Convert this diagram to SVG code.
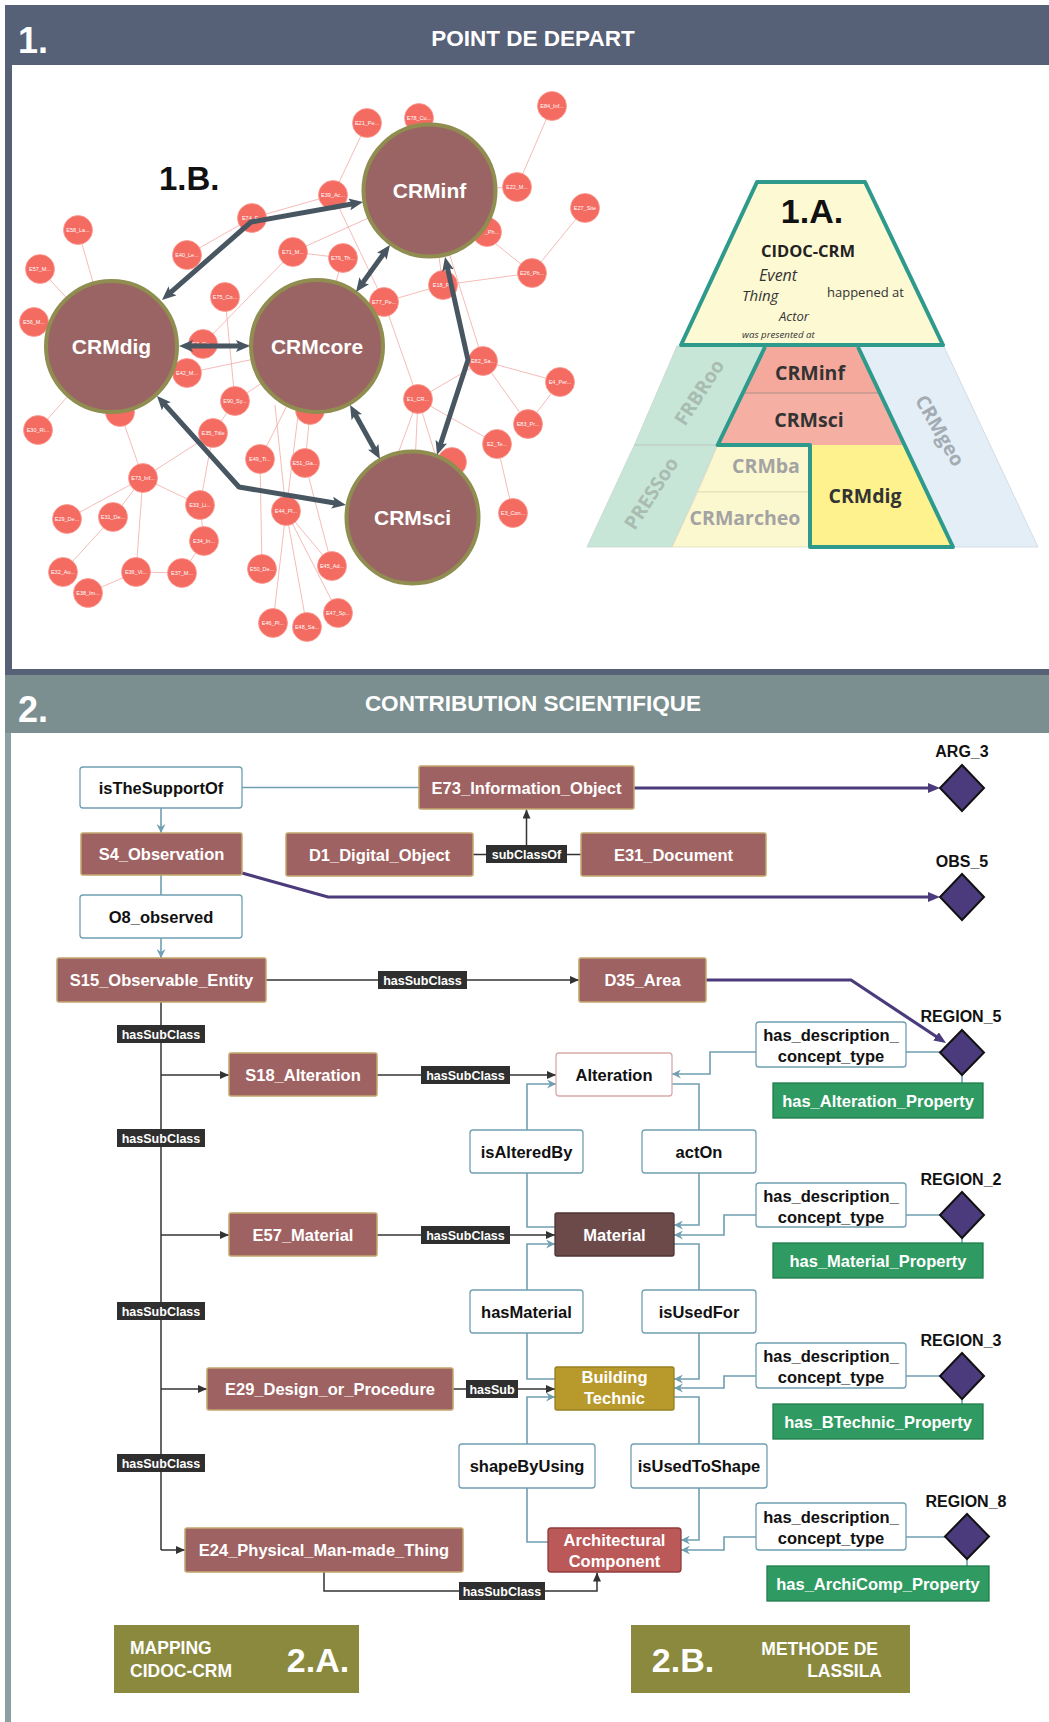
<svg xmlns="http://www.w3.org/2000/svg" width="1049" height="1722" viewBox="0 0 1049 1722">
<defs>
<style>
text{font-family:"Liberation Sans",Arial,sans-serif}
.hd{font-weight:bold;font-size:22.5px;fill:#fff;text-anchor:middle}
.hn{font-size:36px;fill:#fff;font-weight:bold}
.bc{fill:#9b6464;stroke:#8f8d4f;stroke-width:4}
.bt{font-weight:bold;font-size:21px;fill:#fff;text-anchor:middle}
.sc{fill:#f36b61;stroke:#fb9a92;stroke-width:0.8}
.st{font-size:5.5px;fill:#fff;text-anchor:middle}
.te{stroke:#f2aaa5;stroke-width:0.8;fill:none}
.ta{stroke:#475660;stroke-width:5;fill:none;stroke-linejoin:round;marker-start:url(#ha);marker-end:url(#ha)}
.py{font-family:"Open Sans","Liberation Sans",sans-serif}
.pb{font-weight:bold;font-size:19.5px;text-anchor:middle}
.pg{fill:#a3a3a3}
.nb{fill:#9f6262;stroke:#c2a66c;stroke-width:1.5}
.nt{font-weight:bold;font-size:16.5px;fill:#fff;text-anchor:middle}
.rb{fill:#fff;stroke:#6f9fb0;stroke-width:1.3}
.rt{font-weight:bold;font-size:16.5px;fill:#111;text-anchor:middle}
.lb{fill:#2f2f2f}
.lt{font-weight:bold;font-size:12.5px;fill:#fff;text-anchor:middle}
.gb{fill:#2f9a62;stroke:#1f7d4c;stroke-width:1.3}
.dm{fill:#4b3b7c;stroke:#111;stroke-width:2}
.rg{font-weight:bold;font-size:16px;fill:#111;text-anchor:middle}
.ct{stroke:#6f9fb0;stroke-width:1.6;fill:none}
.ca{stroke:#6f9fb0;stroke-width:1.6;fill:none;marker-end:url(#at)}
.ck{stroke:#333;stroke-width:1.5;fill:none}
.cka{stroke:#333;stroke-width:1.5;fill:none;marker-end:url(#ak)}
.cp{stroke:#4b3b7c;stroke-width:3.2;fill:none;marker-end:url(#ap)}
.ob{fill:#8a893e}
.ow{font-weight:bold;font-size:17.5px;fill:#fff}
.obig{font-weight:bold;font-size:34px;fill:#fff;text-anchor:middle}
</style>
<marker id="ha" viewBox="0 0 14 12" markerWidth="14" markerHeight="12" refX="4" refY="6" orient="auto-start-reverse" markerUnits="userSpaceOnUse"><path d="M0,0 L14,6 L0,12 L3,6 z" fill="#475660"/></marker>
<marker id="ak" viewBox="0 0 9 8" markerWidth="9" markerHeight="8" refX="9" refY="4" orient="auto" markerUnits="userSpaceOnUse"><path d="M0,0 L9,4 L0,8 z" fill="#333"/></marker>
<marker id="at" viewBox="0 0 9 9" markerWidth="9" markerHeight="9" refX="9" refY="4.5" orient="auto" markerUnits="userSpaceOnUse"><path d="M0,0 L9,4.5 L0,9 L3,4.5 z" fill="#6f9fb0"/></marker>
<marker id="ap" viewBox="0 0 12 10" markerWidth="12" markerHeight="10" refX="2" refY="5" orient="auto" markerUnits="userSpaceOnUse"><path d="M0,0 L12,5 L0,10 z" fill="#4b3b7c"/></marker>
</defs>

<rect width="1049" height="1722" fill="#fff"/>

<!-- SECTION 1 frame -->
<g id="section1-frame">
<rect x="5" y="5" width="1044" height="60" fill="#566077"/>
<rect x="5" y="65" width="7" height="610" fill="#566077"/>
<rect x="5" y="669" width="1044" height="6" fill="#566077"/>
<text class="hn" x="18" y="53">1.</text>
<text class="hd" x="533" y="46">POINT DE DEPART</text>
</g>

<!-- Network 1.B -->
<g id="net-edges">
<path class="te" d="M367,123L333,195 M252,218L333,195 M187,255L252,218 M333,195L384,302 M552,106L517,187 M585,208L532,273 M429.5,190.5L532,273 M532,273L443,285 M429.5,190.5L443,285 M429.5,190.5L293,252 M293,252L343,258 M343,258L317,346 M384,302L443,285 M384,302L418,399 M78,230L111.5,346.5 M40,269L111.5,346.5 M34,322L111.5,346.5 M38,430L111.5,346.5 M203,344L293,252 M225,297L235,401 M203,344L317,346 M187,373L317,346 M235,401L317,346 M213,433L235,401 M213,433L143,478 M143,478L120,412 M67,519L143,478 M113,517L143,478 M200,505L143,478 M136,572L143,478 M63,572L113,517 M88,593L136,572 M182,573L136,572 M182,573L204,541 M204,541L200,505 M200,505L213,433 M260,459L317,346 M262,569L260,459 M286,511L300,400 M286,511L275,405 M273,623L286,511 M307,627L286,511 M332,566L286,511 M338,613L286,511 M305,463L317,346 M332,566L305,463 M418,399L412.5,517.5 M418,399L392,470 M418,399L440,470 M483,361L418,399 M560,382L483,361 M528,424L483,361 M560,382L528,424 M497,444L418,399 M513,513L497,444 M429.5,190.5L483,361 M429.5,190.5L487,232 M517,187L429.5,190.5 M452,462L412.5,517.5 M310,410L317,346"/>
</g>

<g id="net-small">
<g id="n-e21"><circle class="sc" cx="367" cy="123" r="14.5"/><text class="st" x="367" y="125">E21_Pe...</text></g>
<g id="n-e78"><circle class="sc" cx="419" cy="118" r="14.5"/><text class="st" x="419" y="120">E78_Cu...</text></g>
<g id="n-e84"><circle class="sc" cx="552" cy="106" r="14.5"/><text class="st" x="552" y="108">E84_Inf...</text></g>
<g id="n-e39"><circle class="sc" cx="333" cy="195" r="14.5"/><text class="st" x="333" y="197">E39_Ac...</text></g>
<g id="n-e22"><circle class="sc" cx="517" cy="187" r="14.5"/><text class="st" x="517" y="189">E22_M...</text></g>
<g id="n-e27"><circle class="sc" cx="585" cy="208" r="14.5"/><text class="st" x="585" y="210">E27_Site</text></g>
<g id="n-ph"><circle class="sc" cx="487" cy="232" r="14.5"/><text class="st" x="492" y="234">_Ph...</text></g>
<g id="n-e26"><circle class="sc" cx="532" cy="273" r="14.5"/><text class="st" x="532" y="275">E26_Ph...</text></g>
<g id="n-e18"><circle class="sc" cx="443" cy="285" r="14.5"/><text class="st" x="443" y="287">E18_P...</text></g>
<g id="n-e79"><circle class="sc" cx="343" cy="258" r="14.5"/><text class="st" x="343" y="260">E79_Th...</text></g>
<g id="n-e77"><circle class="sc" cx="384" cy="302" r="14.5"/><text class="st" x="384" y="304">E77_Pe...</text></g>
<g id="n-e71"><circle class="sc" cx="293" cy="252" r="14.5"/><text class="st" x="293" y="254">E71_M...</text></g>
<g id="n-e74"><circle class="sc" cx="252" cy="218" r="14.5"/><text class="st" x="252" y="220">E74_F...</text></g>
<g id="n-e40"><circle class="sc" cx="187" cy="255" r="14.5"/><text class="st" x="187" y="257">E40_Le...</text></g>
<g id="n-e58"><circle class="sc" cx="78" cy="230" r="14.5"/><text class="st" x="78" y="232">E58_La...</text></g>
<g id="n-e57"><circle class="sc" cx="40" cy="269" r="14.5"/><text class="st" x="40" y="271">E57_M...</text></g>
<g id="n-e56"><circle class="sc" cx="34" cy="322" r="14.5"/><text class="st" x="34" y="324">E56_M...</text></g>
<g id="n-e75"><circle class="sc" cx="225" cy="297" r="14.5"/><text class="st" x="225" y="299">E75_Co...</text></g>
<g id="n-e7c"><circle class="sc" cx="203" cy="344" r="14.5"/><text class="st" x="203" y="346">E7_Co...</text></g>
<g id="n-e42"><circle class="sc" cx="187" cy="373" r="14.5"/><text class="st" x="187" y="375">E42_M...</text></g>
<g id="n-e90"><circle class="sc" cx="235" cy="401" r="14.5"/><text class="st" x="235" y="403">E90_Sy...</text></g>
<g id="n-e35"><circle class="sc" cx="213" cy="433" r="14.5"/><text class="st" x="213" y="435">E35_Title</text></g>
<g id="n-e30"><circle class="sc" cx="38" cy="430" r="14.5"/><text class="st" x="38" y="432">E30_Ri...</text></g>
<g id="n-x1"><circle class="sc" cx="120" cy="412" r="14.5"/></g>
<g id="n-e73"><circle class="sc" cx="143" cy="478" r="14.5"/><text class="st" x="143" y="480">E73_Inf...</text></g>
<g id="n-e29"><circle class="sc" cx="67" cy="519" r="14.5"/><text class="st" x="67" y="521">E29_De...</text></g>
<g id="n-e31"><circle class="sc" cx="113" cy="517" r="14.5"/><text class="st" x="113" y="519">E31_De...</text></g>
<g id="n-e33"><circle class="sc" cx="200" cy="505" r="14.5"/><text class="st" x="200" y="507">E33_Li...</text></g>
<g id="n-e34"><circle class="sc" cx="204" cy="541" r="14.5"/><text class="st" x="204" y="543">E34_In...</text></g>
<g id="n-e32"><circle class="sc" cx="63" cy="572" r="14.5"/><text class="st" x="63" y="574">E32_Au...</text></g>
<g id="n-e36"><circle class="sc" cx="136" cy="572" r="14.5"/><text class="st" x="136" y="574">E36_Vi...</text></g>
<g id="n-e37"><circle class="sc" cx="182" cy="573" r="14.5"/><text class="st" x="182" y="575">E37_M...</text></g>
<g id="n-e38"><circle class="sc" cx="88" cy="593" r="14.5"/><text class="st" x="88" y="595">E38_Im...</text></g>
<g id="n-e49"><circle class="sc" cx="260" cy="459" r="14.5"/><text class="st" x="260" y="461">E49_Ti...</text></g>
<g id="n-e51"><circle class="sc" cx="305" cy="463" r="14.5"/><text class="st" x="305" y="465">E51_Ga...</text></g>
<g id="n-e44"><circle class="sc" cx="286" cy="511" r="14.5"/><text class="st" x="286" y="513">E44_Pl...</text></g>
<g id="n-e50"><circle class="sc" cx="262" cy="569" r="14.5"/><text class="st" x="262" y="571">E50_De...</text></g>
<g id="n-e46"><circle class="sc" cx="273" cy="623" r="14.5"/><text class="st" x="273" y="625">E46_Pl...</text></g>
<g id="n-e48"><circle class="sc" cx="307" cy="627" r="14.5"/><text class="st" x="307" y="629">E48_Sa...</text></g>
<g id="n-e45"><circle class="sc" cx="332" cy="566" r="14.5"/><text class="st" x="332" y="568">E45_Ad...</text></g>
<g id="n-e47"><circle class="sc" cx="338" cy="613" r="14.5"/><text class="st" x="338" y="615">E47_Sp...</text></g>
<g id="n-e1"><circle class="sc" cx="418" cy="399" r="14.5"/><text class="st" x="418" y="401">E1_CR...</text></g>
<g id="n-e82"><circle class="sc" cx="483" cy="361" r="14.5"/><text class="st" x="483" y="363">E82_Sa...</text></g>
<g id="n-e4"><circle class="sc" cx="560" cy="382" r="14.5"/><text class="st" x="560" y="384">E4_Per...</text></g>
<g id="n-e83"><circle class="sc" cx="528" cy="424" r="14.5"/><text class="st" x="528" y="426">E83_Pr...</text></g>
<g id="n-e2"><circle class="sc" cx="497" cy="444" r="14.5"/><text class="st" x="497" y="446">E2_Te...</text></g>
<g id="n-e3"><circle class="sc" cx="513" cy="513" r="14.5"/><text class="st" x="513" y="515">E3_Con...</text></g>
<g id="n-x2"><circle class="sc" cx="452" cy="462" r="14.5"/></g>
<g id="n-x3"><circle class="sc" cx="310" cy="410" r="14.5"/></g>
</g>

<g id="crminf"><circle class="bc" cx="429.5" cy="190.5" r="66"/><text class="bt" x="429.5" y="198">CRMinf</text></g>
<g id="crmdig"><circle class="bc" cx="111.5" cy="346.5" r="65.5"/><text class="bt" x="111.5" y="354">CRMdig</text></g>
<g id="crmcore"><circle class="bc" cx="317" cy="346" r="66"/><text class="bt" x="317" y="354">CRMcore</text></g>
<g id="crmsci"><circle class="bc" cx="412.5" cy="517.5" r="66"/><text class="bt" x="412.5" y="525">CRMsci</text></g>

<g id="net-arrows">
<path class="ta" d="M353.2,203.8 L251,222 L169.5,293.4"/>
<path class="ta" d="M189,346 L240,346"/>
<path class="ta" d="M361.9,283.9 L384.1,253.1"/>
<path class="ta" d="M447.2,266.8 L468,360 L440.1,445.5"/>
<path class="ta" d="M354.9,413.7 L375.1,450.3"/>
<path class="ta" d="M163.7,403.4 L239,487 L336.1,503.3"/>
</g>
<text x="159" y="190" font-size="33" font-weight="bold" fill="#111">1.B.</text>

<!-- Pyramid 1.A -->
<g id="pyramid">
<polygon points="677,346 765,346 717.7,445 634.4,445" fill="#c8e6d7" stroke="#c9d6cf" stroke-width="0.8"/>
<polygon points="634.4,445 717.7,445 672,547 587,547" fill="#c8e6d7" stroke="#c9d6cf" stroke-width="0.8"/>
<polygon points="858,346 943.7,346 1038,547 953,547" fill="#e3eef7" stroke="#cdd6de" stroke-width="0.8"/>
<polygon points="765,346 858,346 879.5,393 744,393" fill="#f5a99c"/>
<polygon points="744,393 879.5,393 904.3,445 717.7,445" fill="#f5b0a3"/>
<polygon points="717.7,445 810,445 810,492 697.8,492" fill="#fbf7cf" stroke="#d8d4b0" stroke-width="0.6"/>
<polygon points="697.8,492 810,492 810,547 672,547" fill="#fbf7cf" stroke="#d8d4b0" stroke-width="0.6"/>
<polygon points="810,445 904.3,445 953,547 810,547" fill="#fdf28e"/>
<line x1="744" y1="393" x2="879.5" y2="393" stroke="#9a8a86" stroke-width="0.8"/>
<line x1="634.4" y1="445" x2="717.7" y2="445" stroke="#b9c9c1" stroke-width="0.8"/>
<polygon points="757,182 865,182 943,345 681,345" fill="#fdf9d3" stroke="#2e9a8c" stroke-width="4" stroke-linejoin="round"/>
<path d="M765,347 L717.7,445 L810,445 L810,547 L953,547 L858,347" fill="none" stroke="#2e9a8c" stroke-width="4" stroke-linejoin="round"/>
<text x="812" y="223" font-size="34" font-weight="bold" fill="#111" text-anchor="middle">1.A.</text>
<text class="py" x="808" y="257" font-size="16.5" font-weight="bold" fill="#222" text-anchor="middle">CIDOC-CRM</text>
<text class="py" x="759" y="281" font-size="16" font-style="italic" fill="#333">Event</text>
<text class="py" x="742" y="301" font-size="15" font-style="italic" fill="#333">Thing</text>
<text class="py" x="827" y="297" font-size="13" fill="#333">happened at</text>
<text class="py" x="779" y="321" font-size="13" font-style="italic" fill="#333">Actor</text>
<text class="py" x="742" y="338" font-size="9.7" font-style="italic" fill="#333">was presented at</text>
<text class="py pb" x="810" y="380" fill="#333">CRMinf</text>
<text class="py pb" x="809" y="427" fill="#333">CRMsci</text>
<text class="py pb" x="865" y="503" fill="#333">CRMdig</text>
<text class="py pb pg" x="766" y="473">CRMba</text>
<text class="py pb pg" x="745" y="525">CRMarcheo</text>
<text class="py pb" transform="translate(705,396) rotate(-57)" fill="#a9bcb2">FRBRoo</text>
<text class="py pb" transform="translate(657,497) rotate(-57)" fill="#a9bcb2">PRESSoo</text>
<text class="py pb" transform="translate(934,434) rotate(60)" fill="#a3abb3">CRMgeo</text>
</g>

<!-- SECTION 2 frame -->
<g id="section2-frame">
<rect x="5" y="675" width="1044" height="58" fill="#7b8f90"/>
<rect x="5" y="733" width="6" height="989" fill="#8aa0a2"/>
<text class="hn" x="18" y="722">2.</text>
<text class="hd" x="533" y="711">CONTRIBUTION SCIENTIFIQUE</text>
</g>

<!-- Connectors -->
<g id="connectors">
<path class="ct" d="M242,787.5 H419"/>
<path class="ca" d="M161,808 V833"/>
<path class="ct" d="M161,875 V895"/>
<path class="ca" d="M161,938 V958"/>
<path class="ck" d="M473,854.5 H581"/>
<path class="cka" d="M526.5,845 V809.5"/>
<path class="cka" d="M266,980 H579"/>
<path class="ck" d="M161,1002 V1550"/>
<path class="cka" d="M161,1075 H229"/>
<path class="cka" d="M377,1075 H556"/>
<path class="cka" d="M161,1235 H229"/>
<path class="cka" d="M377,1235 H555"/>
<path class="cka" d="M161,1389 H207"/>
<path class="cka" d="M453,1389 H555"/>
<path class="cka" d="M161,1550 H185"/>
<path class="cka" d="M324,1572 V1591 H597 V1572.5"/>
<path class="ct" d="M555,1227 H527 V1173"/>
<path class="ca" d="M527,1130 V1084 H556"/>
<path class="ct" d="M672,1084 H699 V1130"/>
<path class="ca" d="M699,1173 V1225 H674"/>
<path class="ca" d="M756,1052 H710 V1074 H672"/>
<path class="ct" d="M906,1052 H940 M962,1075 V1083"/>
<path class="ca" d="M527,1290 V1244 H555"/>
<path class="ct" d="M527,1333 V1379 H555"/>
<path class="ct" d="M674,1244 H699 V1290"/>
<path class="ca" d="M699,1333 V1379 H674"/>
<path class="ca" d="M756,1215 H724 V1235 H674"/>
<path class="ct" d="M906,1215 H940 M962,1238 V1243"/>
<path class="ca" d="M527,1444 V1397 H555"/>
<path class="ct" d="M527,1488 V1542 H548"/>
<path class="ct" d="M674,1397 H699 V1444"/>
<path class="ca" d="M699,1488 V1540 H681"/>
<path class="ca" d="M756,1376 H724 V1388 H674"/>
<path class="ct" d="M906,1376 H940 M962,1399 V1404"/>
<path class="ca" d="M756,1537 H724 V1550 H681"/>
<path class="ct" d="M906,1537 H945 M967,1559 V1566"/>
<path class="cp" d="M634,788 H930"/>
<path class="cp" d="M242,873 L328,897 H930"/>
<path class="cp" d="M706,980 H851 L937.7,1037.5"/>
</g>

<!-- Nodes -->
<g id="isTheSupportOf"><rect class="rb" x="80" y="767" width="162" height="41" rx="3"/><text class="rt" x="161" y="793.5">isTheSupportOf</text></g>
<g id="E73"><rect class="nb" x="419" y="766" width="215" height="43" rx="2"/><text class="nt" x="526.5" y="793.5">E73_Information_Object</text></g>
<g id="S4"><rect class="nb" x="81" y="833" width="161" height="42" rx="2"/><text class="nt" x="161.5" y="860">S4_Observation</text></g>
<g id="D1"><rect class="nb" x="286" y="833" width="187" height="43" rx="2"/><text class="nt" x="379.5" y="860.5">D1_Digital_Object</text></g>
<g id="lbl-subClassOf"><rect class="lb" x="486" y="845" width="81" height="18"/><text class="lt" x="526.5" y="858.5">subClassOf</text></g>
<g id="E31"><rect class="nb" x="581" y="833" width="185" height="43" rx="2"/><text class="nt" x="673.5" y="860.5">E31_Document</text></g>
<g id="O8"><rect class="rb" x="80" y="895" width="162" height="43" rx="3"/><text class="rt" x="161" y="922.5">O8_observed</text></g>
<g id="S15"><rect class="nb" x="57" y="958" width="209" height="44" rx="2"/><text class="nt" x="161.5" y="986">S15_Observable_Entity</text></g>
<g id="lbl-hsc0"><rect class="lb" x="378" y="971" width="89" height="18"/><text class="lt" x="422.5" y="984.5">hasSubClass</text></g>
<g id="D35"><rect class="nb" x="579" y="958" width="127" height="44" rx="2"/><text class="nt" x="642.5" y="986">D35_Area</text></g>
<g id="lbl-hsc1"><rect class="lb" x="117" y="1025" width="88" height="18"/><text class="lt" x="161" y="1038.5">hasSubClass</text></g>
<g id="lbl-hsc2"><rect class="lb" x="117" y="1129" width="88" height="18"/><text class="lt" x="161" y="1142.5">hasSubClass</text></g>
<g id="lbl-hsc3"><rect class="lb" x="117" y="1302" width="88" height="18"/><text class="lt" x="161" y="1315.5">hasSubClass</text></g>
<g id="lbl-hsc4"><rect class="lb" x="117" y="1454" width="88" height="18"/><text class="lt" x="161" y="1467.5">hasSubClass</text></g>
<g id="S18"><rect class="nb" x="229" y="1053" width="148" height="43" rx="2"/><text class="nt" x="303" y="1080.5">S18_Alteration</text></g>
<g id="lbl-hsc5"><rect class="lb" x="421" y="1066" width="89" height="18"/><text class="lt" x="465.5" y="1079.5">hasSubClass</text></g>
<g id="Alteration"><rect x="556" y="1053" width="116" height="43" rx="3" fill="#fff" stroke="#d9a9a9" stroke-width="1.3"/><text class="rt" x="614" y="1080.5" fill="#222">Alteration</text></g>
<g id="isAlteredBy"><rect class="rb" x="470" y="1130" width="113" height="43" rx="3"/><text class="rt" x="526.5" y="1157.5">isAlteredBy</text></g>
<g id="actOn"><rect class="rb" x="642" y="1130" width="114" height="43" rx="3"/><text class="rt" x="699" y="1157.5">actOn</text></g>
<g id="E57"><rect class="nb" x="229" y="1213" width="148" height="43" rx="2"/><text class="nt" x="303" y="1240.5">E57_Material</text></g>
<g id="lbl-hsc6"><rect class="lb" x="421" y="1226" width="89" height="18"/><text class="lt" x="465.5" y="1239.5">hasSubClass</text></g>
<g id="Material"><rect x="555" y="1213" width="119" height="43" rx="2" fill="#6c4a4a" stroke="#4e3434" stroke-width="1.3"/><text class="nt" x="614.5" y="1240.5">Material</text></g>
<g id="hasMaterial"><rect class="rb" x="470" y="1290" width="113" height="43" rx="3"/><text class="rt" x="526.5" y="1317.5">hasMaterial</text></g>
<g id="isUsedFor"><rect class="rb" x="642" y="1290" width="114" height="43" rx="3"/><text class="rt" x="699" y="1317.5">isUsedFor</text></g>
<g id="E29"><rect class="nb" x="207" y="1368" width="246" height="42" rx="2"/><text class="nt" x="330" y="1395">E29_Design_or_Procedure</text></g>
<g id="lbl-hassub"><rect class="lb" x="466" y="1380" width="52" height="18"/><text class="lt" x="492" y="1393.5">hasSub</text></g>
<g id="BuildingTechnic"><rect x="555" y="1367" width="119" height="43" rx="2" fill="#b8992c" stroke="#97801f" stroke-width="1.3"/><text class="nt" x="614.5" y="1383">Building</text><text class="nt" x="614.5" y="1404">Technic</text></g>
<g id="shapeByUsing"><rect class="rb" x="459" y="1444" width="136" height="44" rx="3"/><text class="rt" x="527" y="1472">shapeByUsing</text></g>
<g id="isUsedToShape"><rect class="rb" x="631" y="1444" width="136" height="44" rx="3"/><text class="rt" x="699" y="1472">isUsedToShape</text></g>
<g id="E24"><rect class="nb" x="185" y="1528" width="278" height="44" rx="2"/><text class="nt" x="324" y="1556">E24_Physical_Man-made_Thing</text></g>
<g id="ArchitecturalComponent"><rect x="548" y="1528" width="133" height="44" rx="3" fill="#bb5858" stroke="#8e3c3c" stroke-width="1.3"/><text class="nt" x="614.5" y="1546">Architectural</text><text class="nt" x="614.5" y="1567">Component</text></g>
<g id="lbl-hsc7"><rect class="lb" x="459" y="1582" width="86" height="18"/><text class="lt" x="502" y="1595.5">hasSubClass</text></g>

<g id="ARG_3"><text class="rg" x="962" y="757">ARG_3</text><polygon class="dm" points="962,765 984,788 962,811 940,788"/></g>
<g id="OBS_5"><text class="rg" x="962" y="867">OBS_5</text><polygon class="dm" points="962,874 984,897 962,920 940,897"/></g>
<g id="REGION_5"><text class="rg" x="961" y="1022">REGION_5</text><polygon class="dm" points="962,1030 984,1052.5 962,1075 940,1052.5"/></g>
<g id="REGION_2"><text class="rg" x="961" y="1185">REGION_2</text><polygon class="dm" points="962,1192 984,1215 962,1238 940,1215"/></g>
<g id="REGION_3"><text class="rg" x="961" y="1346">REGION_3</text><polygon class="dm" points="962,1353 984,1376 962,1399 940,1376"/></g>
<g id="REGION_8"><text class="rg" x="966" y="1507">REGION_8</text><polygon class="dm" points="967,1514 989,1536.5 967,1559 945,1536.5"/></g>

<g id="desc5"><rect class="rb" x="756" y="1022" width="150" height="45" rx="3"/><text class="rt" x="831" y="1041">has_description_</text><text class="rt" x="831" y="1062">concept_type</text></g>
<g id="desc2"><rect class="rb" x="756" y="1183" width="150" height="44" rx="3"/><text class="rt" x="831" y="1201.5">has_description_</text><text class="rt" x="831" y="1222.5">concept_type</text></g>
<g id="desc3"><rect class="rb" x="756" y="1343" width="150" height="45" rx="3"/><text class="rt" x="831" y="1362">has_description_</text><text class="rt" x="831" y="1383">concept_type</text></g>
<g id="desc8"><rect class="rb" x="756" y="1503" width="150" height="47" rx="3"/><text class="rt" x="831" y="1523">has_description_</text><text class="rt" x="831" y="1544">concept_type</text></g>

<g id="prop-alt"><rect class="gb" x="773" y="1083" width="210" height="35"/><text class="nt" x="878" y="1106.5">has_Alteration_Property</text></g>
<g id="prop-mat"><rect class="gb" x="773" y="1243" width="210" height="35"/><text class="nt" x="878" y="1266.5">has_Material_Property</text></g>
<g id="prop-bt"><rect class="gb" x="773" y="1404" width="210" height="35"/><text class="nt" x="878" y="1427.5">has_BTechnic_Property</text></g>
<g id="prop-ac"><rect class="gb" x="767" y="1566" width="222" height="35"/><text class="nt" x="878" y="1589.5">has_ArchiComp_Property</text></g>

<g id="box-2A"><rect class="ob" x="114" y="1625" width="245" height="68"/><text class="ow" x="130" y="1654">MAPPING</text><text class="ow" x="130" y="1677">CIDOC-CRM</text><text class="obig" x="318" y="1672">2.A.</text></g>
<g id="box-2B"><rect class="ob" x="631" y="1625" width="279" height="68"/><text class="obig" x="683" y="1672">2.B.</text><text class="ow" x="878" y="1655" text-anchor="end">METHODE DE</text><text class="ow" x="882" y="1677" text-anchor="end">LASSILA</text></g>
</svg>
